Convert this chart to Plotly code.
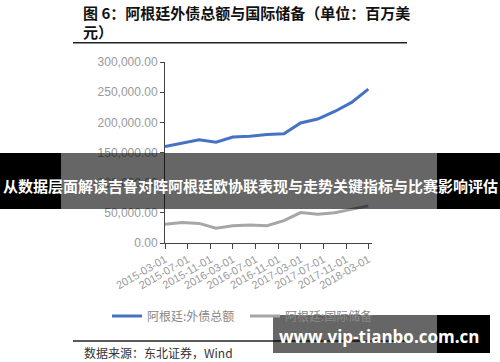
import plotly.graph_objects as go

dates = ["2015-03-01", "2015-06-01", "2015-09-01", "2015-12-01", "2016-03-01", "2016-06-01",
         "2016-09-01", "2016-12-01", "2017-03-01", "2017-06-01", "2017-09-01", "2017-12-01",
         "2018-03-01"]
external_debt = [160000, 166000, 171000, 167000, 175500, 177000, 180000, 181000,
                 199000, 205500, 218000, 233000, 255000]
reserves = [31000, 34000, 32500, 24500, 28500, 30000, 28500, 37000,
            50500, 47800, 50000, 55500, 61500]

title_line1 = "图 6：阿根廷外债总额与国际储备（单位：百万美"
title_line2 = "元）"
source_text = "数据来源：东北证券，Wind"
banner_text = "从数据层面解读吉鲁对阵阿根廷欧协联表现与走势关键指标与比赛影响评估"
watermark_text = "www.vip-tianbo.com.cn"
name_debt = "阿根廷:外债总额"
name_res = "阿根廷:国际储备"

W, H = 500, 362
L, R, T, B = 165, 128, 62, 119
PW, PH = W - L - R, H - T - B


def px(x):
    return (x - L) / PW


def py(y):
    return (H - B - y) / PH


fig = go.Figure()
fig.add_trace(go.Scatter(x=dates, y=external_debt, mode="lines", name=name_debt,
                         line=dict(color="#4472c4", width=3), legend="legend"))
fig.add_trace(go.Scatter(x=dates, y=reserves, mode="lines", name=name_res,
                         line=dict(color="#a6a6a6", width=3), legend="legend2"))

shapes = []
shapes.append(dict(type="line", xref="paper", yref="paper", x0=px(73), x1=px(407),
                   y0=py(42.7), y1=py(42.7), line=dict(color="#222", width=1.5)))
shapes.append(dict(type="line", xref="paper", yref="paper", x0=px(73), x1=px(407),
                   y0=py(341), y1=py(341), line=dict(color="#222", width=1.5)))
shapes.append(dict(type="rect", xref="paper", yref="paper", x0=px(61), x1=px(437),
                   y0=py(209), y1=py(153), fillcolor="rgba(0,0,0,0.6)", line_width=0, layer="above"))
shapes.append(dict(type="rect", xref="paper", yref="paper", x0=px(0), x1=px(61),
                   y0=py(209), y1=py(153), fillcolor="#000", line_width=0, layer="above"))
shapes.append(dict(type="rect", xref="paper", yref="paper", x0=px(437), x1=px(500),
                   y0=py(209), y1=py(153), fillcolor="#000", line_width=0, layer="above"))
shapes.append(dict(type="rect", xref="paper", yref="paper", x0=px(273), x1=px(437),
                   y0=py(353), y1=py(315), fillcolor="rgba(0,0,0,0.6)", line_width=0, layer="above"))
shapes.append(dict(type="rect", xref="paper", yref="paper", x0=px(437), x1=px(490),
                   y0=py(353), y1=py(315), fillcolor="#000", line_width=0, layer="above"))

cjk = "Noto Sans CJK SC"
annotations = [
    dict(text="<b>" + title_line1 + "</b>", xref="paper", yref="paper", x=px(81), y=py(12),
         xanchor="left", yanchor="middle", showarrow=False, font=dict(family=cjk, size=15, color="#111")),
    dict(text="<b>" + title_line2 + "</b>", xref="paper", yref="paper", x=px(81), y=py(32),
         xanchor="left", yanchor="middle", showarrow=False, font=dict(family=cjk, size=15, color="#111")),
    dict(text=source_text, xref="paper", yref="paper", x=px(82), y=py(352),
         xanchor="left", yanchor="middle", showarrow=False, font=dict(family=cjk, size=12, color="#333")),
    dict(text="<b>" + banner_text + "</b>", xref="paper", yref="paper", x=px(250), y=py(185),
         xanchor="center", yanchor="middle", showarrow=False, font=dict(family=cjk, size=15, color="#fff")),
    dict(text="<b>" + watermark_text + "</b>", xref="paper", yref="paper", x=px(379), y=py(336),
         xanchor="center", yanchor="middle", showarrow=False,
         font=dict(family="Open Sans", size=17, color="#fff")),
]

legend_style = dict(orientation="h", xanchor="left", yanchor="middle",
                    font=dict(family=cjk, size=12, color="#888"), bgcolor="rgba(0,0,0,0)",
                    itemwidth=30)

fig.update_layout(
    width=W, height=H,
    margin=dict(l=L, r=R, t=T, b=B, pad=0),
    paper_bgcolor="white", plot_bgcolor="white",
    showlegend=True,
    legend=dict(x=px(107), y=py(316), **legend_style),
    legend2=dict(x=px(245), y=py(316), **legend_style),
    shapes=shapes,
    annotations=annotations,
    xaxis=dict(type="date", range=["2015-03-01", "2018-03-21"], tick0="2015-03-01", dtick="M4",
               tickformat="%Y-%m-%d", tickangle=-30, ticks="outside", ticklen=5, tickcolor="#444",
               showline=True, linecolor="#444", linewidth=1, showgrid=False, zeroline=False,
               tickfont=dict(family="Liberation Sans", size=11, color="#999")),
    yaxis=dict(range=[0, 300000], dtick=50000, tickformat=",.2f", ticks="outside", ticklen=4,
               tickcolor="#444", showline=True, linecolor="#444", linewidth=1, showgrid=False,
               zeroline=False, tickfont=dict(family="Liberation Sans", size=12, color="#999")),
)

fig.write_html("out.html")
